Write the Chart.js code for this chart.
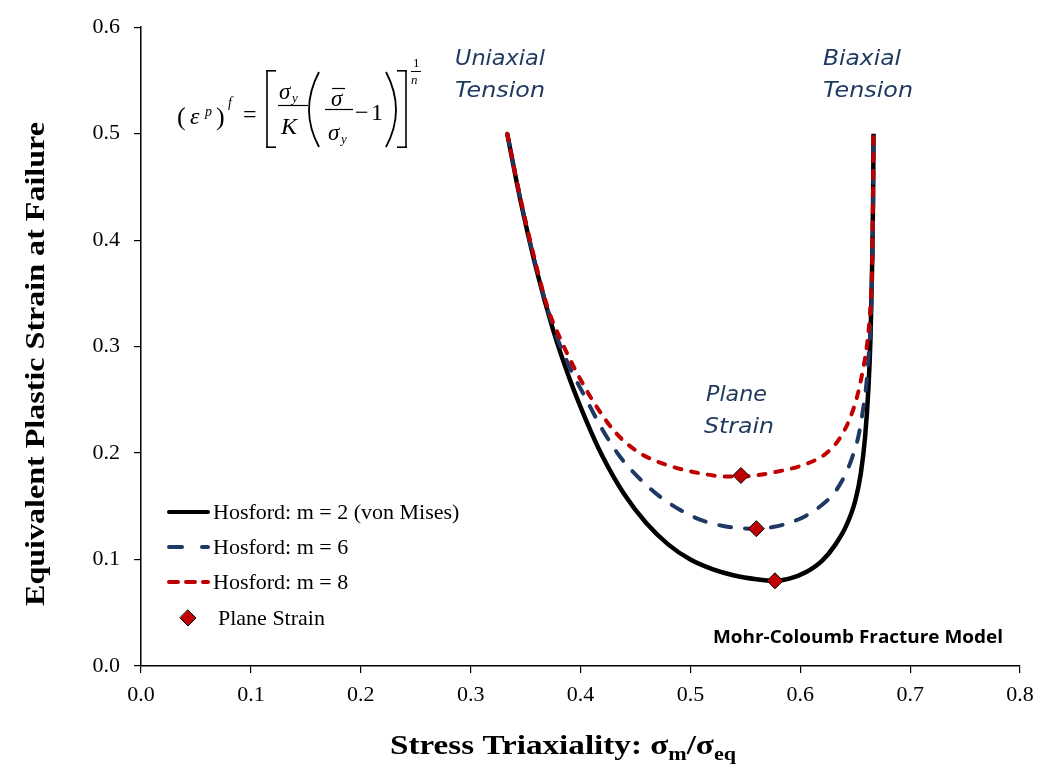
<!DOCTYPE html>
<html>
<head>
<meta charset="utf-8">
<script src="https://cdn.jsdelivr.net/npm/chart.js@4.4.1/dist/chart.umd.min.js"></script>
<style>
  html, body { margin: 0; padding: 0; background: #fff; }
</style>
</head>
<body>
<canvas id="fractureChart" width="1048" height="767"></canvas>
<script>
// ---- data ----
const xTicks = [0.0, 0.1, 0.2, 0.3, 0.4, 0.5, 0.6, 0.7, 0.8];
const yTicks = [0.0, 0.1, 0.2, 0.3, 0.4, 0.5, 0.6];

// Hosford m = 2 (von Mises)
const xM2 = [0.3333, 0.345, 0.360, 0.375, 0.390, 0.405, 0.420, 0.440, 0.460, 0.480, 0.500, 0.520, 0.540, 0.560, 0.577,
             0.590, 0.605, 0.620, 0.632, 0.642, 0.650, 0.655, 0.659, 0.662, 0.664, 0.6655, 0.6663, 0.6667];
const yM2 = [0.500, 0.439, 0.372, 0.316, 0.270, 0.231, 0.197, 0.161, 0.134, 0.114, 0.100, 0.091, 0.085, 0.0815, 0.080,
             0.082, 0.088, 0.099, 0.114, 0.132, 0.155, 0.180, 0.215, 0.260, 0.310, 0.380, 0.440, 0.500];

// Hosford m = 6
const xM6 = [0.3333, 0.345, 0.360, 0.375, 0.390, 0.405, 0.420, 0.435, 0.450, 0.470, 0.490, 0.510, 0.530, 0.545, 0.560,
             0.575, 0.590, 0.605, 0.620, 0.632, 0.642, 0.648, 0.653, 0.657, 0.660, 0.662, 0.664, 0.6655, 0.6663, 0.6667];
const yM6 = [0.500, 0.440, 0.373, 0.319, 0.281, 0.251, 0.222, 0.198, 0.180, 0.161, 0.147, 0.137, 0.1315, 0.1295, 0.129,
             0.1305, 0.1345, 0.141, 0.1515, 0.164, 0.182, 0.198, 0.216, 0.240, 0.263, 0.288, 0.320, 0.370, 0.430, 0.500];

// Hosford m = 8
const xM8 = [0.3333, 0.345, 0.360, 0.370, 0.384, 0.399, 0.415, 0.433, 0.454, 0.481, 0.509, 0.533, 0.546,
             0.581, 0.606, 0.624, 0.636, 0.645, 0.652, 0.657, 0.661, 0.664, 0.6655, 0.6662, 0.6667];
const yM8 = [0.500, 0.441, 0.375, 0.337, 0.302, 0.271, 0.243, 0.218, 0.200, 0.188, 0.181, 0.178, 0.178,
             0.183, 0.190, 0.200, 0.214, 0.232, 0.254, 0.278, 0.304, 0.340, 0.380, 0.437, 0.500];

// plane strain markers (m = 2, 6, 8)
const planeX = [0.577, 0.560, 0.546];
const planeY = [0.080, 0.129, 0.179];

// ---- styling ----
const SERIF = '"Liberation Serif", "Times New Roman", serif';
const SANS = '"DejaVu Sans", Verdana, sans-serif';
const NAVY = "#1F3A5F";
const RED = "#C00000";
const BLUE = "#1F3864";

function pts(xs, ys) {
    return xs.map((x, i) => ({ x: x, y: ys[i] }));
}

// 把文字横向拉伸/压缩到指定宽度
function fitText(ctx, text, x, y, width) {
    const w = ctx.measureText(text).width;
    ctx.save();
    ctx.translate(x, y);
    ctx.scale(width / w, 1);
    ctx.textAlign = "left";
    ctx.fillText(text, 0, 0);
    ctx.restore();
}

function line(ctx, x1, y1, x2, y2, w) {
    ctx.beginPath();
    ctx.lineWidth = w;
    ctx.moveTo(x1, y1);
    ctx.lineTo(x2, y2);
    ctx.stroke();
}

function drawFormula(ctx) {
    ctx.save();
    ctx.fillStyle = "#000";
    ctx.strokeStyle = "#000";
    ctx.textBaseline = "alphabetic";
    ctx.textAlign = "left";

    // (ε^p)^f
    ctx.font = `26px ${SERIF}`;
    ctx.fillText("(", 177, 125);
    ctx.font = `italic 24px ${SERIF}`;
    ctx.fillText("\u03B5", 190, 124);
    ctx.font = `italic 14px ${SERIF}`;
    ctx.fillText("p", 205, 116);
    ctx.font = `26px ${SERIF}`;
    ctx.fillText(")", 216, 125);
    ctx.font = `italic 14px ${SERIF}`;
    ctx.fillText("f", 228, 107);
    ctx.font = `24px ${SERIF}`;
    ctx.fillText("=", 243, 122);

    // [
    line(ctx, 267, 70, 267, 148, 1.6);
    line(ctx, 266.2, 70.8, 276, 70.8, 1.6);
    line(ctx, 266.2, 147.2, 276, 147.2, 1.6);

    // σ_y / K
    ctx.font = `italic 23px ${SERIF}`;
    ctx.fillText("\u03C3", 279, 99);
    ctx.font = `italic 13px ${SERIF}`;
    ctx.fillText("y", 292, 102);
    line(ctx, 278, 105.5, 308, 105.5, 1.2);
    ctx.font = `italic 24px ${SERIF}`;
    ctx.fillText("K", 281, 134);

    // big (
    ctx.beginPath();
    ctx.lineWidth = 1.8;
    ctx.moveTo(319, 72);
    ctx.quadraticCurveTo(299, 110, 319, 147);
    ctx.stroke();

    // σ̄ / σ_y
    ctx.font = `italic 23px ${SERIF}`;
    ctx.fillText("\u03C3", 331, 106);
    line(ctx, 332, 88.5, 345, 88.5, 1.2);
    line(ctx, 325, 109.5, 353, 109.5, 1.2);
    ctx.fillText("\u03C3", 328, 140);
    ctx.font = `italic 13px ${SERIF}`;
    ctx.fillText("y", 341, 143);

    // −1
    ctx.font = `24px ${SERIF}`;
    ctx.fillText("\u2212", 355, 120);
    ctx.fillText("1", 371, 120);

    // big )
    ctx.beginPath();
    ctx.lineWidth = 1.8;
    ctx.moveTo(386, 72);
    ctx.quadraticCurveTo(406, 110, 386, 147);
    ctx.stroke();

    // ]
    line(ctx, 406, 70, 406, 148, 1.6);
    line(ctx, 397, 70.8, 406.8, 70.8, 1.6);
    line(ctx, 397, 147.2, 406.8, 147.2, 1.6);

    // 1/n exponent
    ctx.font = `13px ${SERIF}`;
    ctx.fillText("1", 413, 67);
    line(ctx, 411, 71.5, 421, 71.5, 1);
    ctx.font = `italic 13px ${SERIF}`;
    ctx.fillText("n", 411, 84);
    ctx.restore();
}

function drawLegend(ctx) {
    const rows = [
        { y: 512, text: "Hosford: m = 2 (von Mises)", color: "#000", dash: [] },
        { y: 547, text: "Hosford: m = 6", color: BLUE, dash: [13, 20] },
        { y: 582, text: "Hosford: m = 8", color: RED, dash: [9, 8] }
    ];
    ctx.save();
    ctx.font = `22px ${SERIF}`;
    ctx.textBaseline = "middle";
    ctx.fillStyle = "#000";
    rows.forEach((r) => {
        ctx.beginPath();
        ctx.setLineDash(r.dash);
        ctx.lineCap = "round";
        ctx.strokeStyle = r.color;
        ctx.lineWidth = 4;
        ctx.moveTo(169, r.y);
        ctx.lineTo(208, r.y);
        ctx.stroke();
        ctx.setLineDash([]);
        ctx.fillText(r.text, 213, r.y + 1);
    });
    // diamond
    ctx.beginPath();
    ctx.moveTo(188, 610);
    ctx.lineTo(196, 618);
    ctx.lineTo(188, 626);
    ctx.lineTo(180, 618);
    ctx.closePath();
    ctx.fillStyle = RED;
    ctx.fill();
    ctx.lineWidth = 1;
    ctx.strokeStyle = "#000";
    ctx.stroke();
    ctx.fillStyle = "#000";
    ctx.fillText("Plane Strain", 218, 619);
    ctx.restore();
}

function drawTitles(ctx) {
    ctx.save();
    ctx.fillStyle = "#000";
    ctx.textBaseline = "middle";
    // y title
    ctx.font = `bold 27px ${SERIF}`;
    ctx.save();
    ctx.translate(37, 606);
    ctx.rotate(-Math.PI / 2);
    fitText(ctx, "Equivalent Plastic Strain at Failure", 0, 0, 484);
    ctx.restore();

    // x title with subscripts
    ctx.textBaseline = "alphabetic";
    const parts = [
        { t: "Stress Triaxiality: \u03C3", size: 27, dy: 0 },
        { t: "m", size: 18, dy: 6 },
        { t: "/\u03C3", size: 27, dy: 0 },
        { t: "eq", size: 18, dy: 6 }
    ];
    let total = 0;
    parts.forEach((p) => {
        ctx.font = `bold ${p.size}px ${SERIF}`;
        p.w = ctx.measureText(p.t).width;
        total += p.w;
    });
    const k = 346 / total;
    let x = 390;
    parts.forEach((p) => {
        ctx.font = `bold ${p.size}px ${SERIF}`;
        ctx.save();
        ctx.translate(x, 754 + p.dy);
        ctx.scale(k, 1);
        ctx.fillText(p.t, 0, 0);
        ctx.restore();
        x += p.w * k;
    });
    ctx.restore();
}

function drawNotes(ctx) {
    ctx.save();
    ctx.fillStyle = NAVY;
    ctx.strokeStyle = NAVY;
    ctx.lineWidth = 0.5;
    ctx.textBaseline = "middle";
    ctx.font = `oblique 21px ${SANS}`;
    fitText(ctx, "Uniaxial", 455, 60, 90);
    fitText(ctx, "Tension", 455, 92, 90);
    fitText(ctx, "Biaxial", 823, 60, 78);
    fitText(ctx, "Tension", 823, 92, 90);
    fitText(ctx, "Plane", 706, 396, 61);
    fitText(ctx, "Strain", 704, 428, 70);

    ctx.fillStyle = "#000";
    ctx.font = `bold 17px "Open Sans", ${SANS}`;
    fitText(ctx, "Mohr-Coloumb Fracture Model", 713, 638, 290);
    ctx.restore();
}

const overlayPlugin = {
    id: "overlayPlugin",
    afterDraw(chart) {
        const ctx = chart.ctx;
        drawFormula(ctx);
        drawLegend(ctx);
        drawTitles(ctx);
        drawNotes(ctx);
    }
};

const tickFont = { family: SERIF, size: 22 };

new Chart(document.getElementById("fractureChart").getContext("2d"), {
    type: "scatter",
    data: {
        datasets: [
            {
                label: "Plane Strain",
                data: pts(planeX, planeY),
                showLine: false,
                pointStyle: "rectRot",
                pointRadius: 8,
                pointBackgroundColor: RED,
                pointBorderColor: "#000",
                pointBorderWidth: 1
            },
            {
                label: "Hosford: m = 8",
                data: pts(xM8, yM8),
                showLine: true,
                borderColor: RED,
                borderWidth: 4,
                borderDash: [7, 10],
                borderCapStyle: "round",
                pointRadius: 0,
                cubicInterpolationMode: "monotone"
            },
            {
                label: "Hosford: m = 6",
                data: pts(xM6, yM6),
                showLine: true,
                borderColor: BLUE,
                borderWidth: 4,
                borderDash: [12, 14],
                borderCapStyle: "round",
                pointRadius: 0,
                cubicInterpolationMode: "monotone"
            },
            {
                label: "Hosford: m = 2 (von Mises)",
                data: pts(xM2, yM2),
                showLine: true,
                borderColor: "#000",
                borderWidth: 4.5,
                pointRadius: 0,
                cubicInterpolationMode: "monotone"
            }
        ]
    },
    options: {
        responsive: false,
        animation: false,
        layout: { padding: { top: 17, right: 28, left: 0, bottom: 0 } },
        plugins: {
            legend: { display: false },
            tooltip: { enabled: false }
        },
        scales: {
            x: {
                type: "linear",
                min: 0,
                max: 0.8,
                afterBuildTicks: (s) => { s.ticks = xTicks.map((v) => ({ value: v })); },
                afterFit: (s) => { s.height = 101; },
                ticks: {
                    font: tickFont,
                    color: "#000",
                    padding: 9,
                    maxRotation: 0,
                    callback: (v) => Number(v).toFixed(1)
                },
                grid: { drawOnChartArea: false, drawTicks: true, tickLength: 7, color: "#000", lineWidth: 1.2 },
                border: { display: true, color: "#000", width: 1.5 }
            },
            y: {
                type: "linear",
                min: 0,
                max: 0.6,
                afterBuildTicks: (s) => { s.ticks = yTicks.map((v) => ({ value: v })); },
                afterFit: (s) => { s.width = 141; },
                ticks: {
                    font: tickFont,
                    color: "#000",
                    padding: 14,
                    callback: (v) => Number(v).toFixed(1)
                },
                grid: { drawOnChartArea: false, drawTicks: true, tickLength: 7, color: "#000", lineWidth: 1.2 },
                border: { display: true, color: "#000", width: 1.5 }
            }
        }
    },
    plugins: [overlayPlugin]
});
</script>
</body>
</html>
